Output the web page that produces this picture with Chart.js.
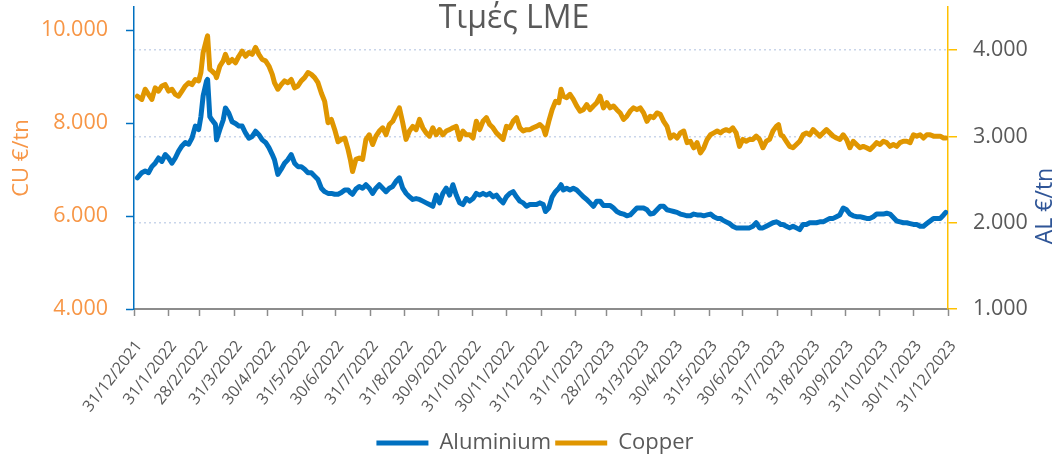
<!DOCTYPE html>
<html>
<head>
<meta charset="utf-8">
<script src="https://cdn.jsdelivr.net/npm/chart.js@4.4.1/dist/chart.umd.min.js"></script>
<style>
html,body{margin:0;padding:0;background:#ffffff;}
#wrap{width:1056px;height:459px;position:relative;}
</style>
</head>
<body>
<div id="wrap"><canvas id="c"></canvas></div>
<script>
// ---- data ----
const chartTitle = 'Τιμές LME';
const leftAxisTitle = 'CU €/tn';
const rightAxisTitle = 'AL €/tn';
const seriesNames = ['Aluminium', 'Copper'];

const tickLabels = ['31/12/2021','31/1/2022','28/2/2022','31/3/2022','30/4/2022','31/5/2022','30/6/2022',
  '31/7/2022','31/8/2022','30/9/2022','31/10/2022','30/11/2022','31/12/2022','31/1/2023','28/2/2023',
  '31/3/2023','30/4/2023','31/5/2023','30/6/2023','31/7/2023','31/8/2023','30/9/2023','31/10/2023',
  '30/11/2023','31/12/2023'];
const copperTicks = [4000, 6000, 8000, 10000];
const aluminiumTicks = [1000, 2000, 3000, 4000];

// sample dates, as days after 31/12/2021
const sampleDays = [
  3,7,10,13,16,19,22,25,28,31,34,37,40,43,46,49,52,55,58,60,62,65,66,68,70,73,74,77,80,82,85,
  88,91,94,97,100,103,106,109,112,115,118,121,124,126,129,132,135,138,141,144,147,150,153,156,159,
  162,165,168,171,174,177,180,183,
  186,189,192,194,196,199,202,205,208,211,214,217,220,223,226,229,232,235,238,241,244,247,250,253,
  256,259,262,265,268,271,274,277,280,283,286,289,292,295,298,301,304,307,310,313,316,319,322,325,
  328,331,334,337,340,343,346,349,352,355,358,361,
  364,367,369,372,375,378,381,383,385,388,391,394,397,400,403,406,409,412,415,418,421,424,427,430,
  433,436,439,442,445,448,451,454,457,460,463,466,469,472,475,478,481,484,487,490,493,496,499,502,
  505,508,511,514,517,520,523,526,528,531,534,537,540,543,
  546,549,552,555,558,561,564,567,570,573,576,578,580,582,585,588,591,594,597,600,603,606,609,612,
  615,618,621,624,627,630,633,636,639,642,645,648,651,654,657,660,663,666,669,672,675,678,681,684,
  687,690,693,696,699,702,705,708,711,714,717,720,723,726,728
];

// Copper, €/tn (left axis)
const copper = [
  8580,8510,8730,8620,8510,8760,8690,8800,8830,8690,8730,8620,8580,8690,8800,8870,8830,8940,8910,
  9090,9520,9800,9880,9160,9120,9050,8980,9230,9340,9480,9300,
  9370,9300,9440,9550,9440,9520,9480,9630,9480,9370,9340,9230,9050,8870,8730,8830,8910,8870,8940,8760,
  8800,8910,8980,9090,9050,8980,8870,8650,8470,8010,8080,7860,7600,
  7650,7680,7430,7220,6960,7220,7250,7220,7650,7750,7540,7720,7830,7900,7750,7970,8040,8190,8330,8010,
  7650,7830,7930,7860,8080,7900,7790,7720,7900,7750,7860,7750,7830,7860,7900,7930,7650,7830,7750,7750,
  7680,8040,7860,8040,8120,7970,7900,7790,7720,7650,7930,7900,8040,8120,7900,7830,7860,7860,7900,7930,
  7970,7900,7750,8040,8290,8470,8440,8730,8580,8550,8620,8510,8370,8260,8290,8400,8290,8370,
  8440,8580,8330,8440,8330,8370,8290,8220,8080,8150,8260,8330,8290,8330,8220,8040,8150,8120,8220,8190,
  8040,7930,7680,7750,7680,7790,7830,7580,7610,7470,7580,7360,7470,7650,7750,7790,7830,7790,
  7830,7860,7830,7900,7790,7500,
  7650,7610,7650,7650,7720,7650,7470,7610,7650,7830,7930,7970,
  7750,7720,7610,7500,7470,7540,7610,7750,7790,7750,7860,7790,7720,7790,7860,7790,7720,7680,7650,7750,
  7650,7470,7610,7540,7470,7500,7470,7430,7500,7580,7540,7610,7580,7500,7540,7500,7580,7610,7610,7580,
  7750,7720,7750,7680,7750,7750,7720,7720,7720,7680,7680
];

// Aluminium, €/tn (right axis)
const aluminium = [
  2520,2580,2600,2580,2650,2690,2750,2710,2790,2750,2690,2750,2830,2890,2930,2910,2980,3120,3080,
  3230,3470,3640,3660,3230,3190,3140,2960,3080,3190,3330,3270,
  3170,3150,3120,3120,3040,2980,3000,3060,3020,2960,2930,2870,2790,2730,2560,2620,2690,2730,2790,
  2690,2650,2650,2620,2580,2580,2540,2500,2400,2360,2340,2340,2330,2330,
  2350,2380,2380,2350,2330,2390,2420,2400,2440,2400,2340,2400,2440,2400,2360,
  2400,2420,2480,2520,2400,2340,2300,2270,2280,2270,2250,2230,2210,2190,2320,2230,2340,2400,2320,2440,
  2320,2230,2210,2280,2250,2280,2340,2320,2340,2320,2340,2300,2320,2270,2230,2300,2340,2360,2300,2250,
  2230,2190,2210,2210,2210,
  2230,2210,2130,2170,2300,2360,2400,2440,2380,2400,2380,2400,2380,2340,2300,2270,2230,2190,
  2250,2250,2200,2200,2200,2170,2130,2110,2100,2080,2090,2130,2170,2170,2170,2150,2100,2110,2150,2190,
  2190,2150,2140,2130,2120,2100,2090,2080,2080,2100,2090,2090,2080,2090,2100,2070,2050,2050,
  2030,2010,1990,1960,1940,1940,
  1940,1940,1940,1960,2000,1940,1940,1960,1980,2000,2010,2000,
  1980,1980,1960,1940,1960,1940,1920,1980,1980,2000,2000,2000,2010,2010,2030,2050,2050,2070,2090,2170,
  2150,2100,2080,2070,2070,2060,2050,2050,2070,2100,2100,2100,2110,2100,2060,2020,2010,2000,2000,1990,
  1980,1980,1960,1960,1990,2020,2050,2050,2050,2090,2120
];

// ---- helpers ----
function labelToDay(label) {
  const [d, m, y] = label.split('/').map(Number);
  return Math.round((Date.UTC(y, m - 1, d) - Date.UTC(2021, 11, 31)) / 86400000);
}
const tickDays = tickLabels.map(labelToDay);
function fmt(v) { return String(Math.round(v)).replace(/\B(?=(\d{3})+(?!\d))/g, '.'); }
function pts(vals) { return vals.map((v, i) => ({ x: sampleDays[i], y: v })); }
function noPad(s) { s.paddingTop = 0; s.paddingBottom = 0; s.paddingLeft = 0; s.paddingRight = 0; }

const FONT = '"Open Sans", "Noto Sans", sans-serif';
const GREY = '#595959';
const ORANGE = '#F79646';
const CU_COLOR = '#E09600';
const AL_COLOR = '#0070C0';

const extraText = {
  id: 'extraText',
  afterDraw(chart) {
    const ctx = chart.ctx, a = chart.chartArea;
    ctx.save();
    ctx.fillStyle = GREY;
    ctx.font = '32px ' + FONT;
    ctx.textAlign = 'center';
    ctx.textBaseline = 'middle';
    ctx.fillText(chartTitle, (a.left + a.right) / 2 - 27, a.top + 12);
    ctx.translate(chart.width - 11, (a.top + a.bottom) / 2 + 48);
    ctx.rotate(-Math.PI / 2);
    ctx.fillStyle = '#2F5597';
    ctx.font = '23px ' + FONT;
    ctx.fillText(rightAxisTitle, 0, 0);
    ctx.restore();
  }
};

new Chart(document.getElementById('c'), {
  type: 'line',
  data: {
    datasets: [
      { label: seriesNames[0], data: pts(aluminium), yAxisID: 'y2', borderColor: AL_COLOR, backgroundColor: AL_COLOR,
        borderWidth: 5, pointRadius: 0, tension: 0, borderCapStyle: 'round', borderJoinStyle: 'round' },
      { label: seriesNames[1], data: pts(copper), yAxisID: 'y', borderColor: CU_COLOR, backgroundColor: CU_COLOR,
        borderWidth: 5, pointRadius: 0, tension: 0, borderCapStyle: 'round', borderJoinStyle: 'round' }
    ]
  },
  options: {
    responsive: true,
    maintainAspectRatio: false,
    animation: false,
    layout: { padding: { left: 14, right: 0, top: 7, bottom: -5 } },
    plugins: {
      title: { display: false },
      tooltip: { enabled: false },
      legend: {
        display: true,
        position: 'bottom',
        labels: {
          usePointStyle: true,
          pointStyle: 'line',
          pointStyleWidth: 52,
          boxWidth: 52,
          padding: 4,
          color: GREY,
          font: { family: FONT, size: 22 }
        }
      }
    },
    scales: {
      x: {
        type: 'linear',
        min: 0,
        max: 730,
        afterBuildTicks: (s) => { s.ticks = tickDays.map(v => ({ value: v })); },
        afterFit: (s) => { s.height = 119; noPad(s); },
        ticks: {
          autoSkip: false,
          minRotation: 52,
          maxRotation: 52,
          padding: 21,
          labelOffset: 5,
          color: GREY,
          font: { family: FONT, size: 16 },
          callback: (v, i) => tickLabels[i]
        },
        grid: { drawOnChartArea: false, drawTicks: true, tickLength: 7, tickColor: '#8C8C8C', tickWidth: 1.5 },
        border: { display: true, color: '#8C8C8C', width: 2 }
      },
      y: {
        type: 'linear',
        position: 'left',
        min: 4000,
        max: 10500,
        afterBuildTicks: (s) => { s.ticks = copperTicks.map(v => ({ value: v })); },
        afterFit: (s) => { s.width = 120; noPad(s); },
        ticks: { padding: 18, color: ORANGE,
          font: { family: FONT, size: 21.5 }, callback: (v) => fmt(v) },
        grid: { drawOnChartArea: false, drawTicks: true, tickLength: 8, tickColor: AL_COLOR, tickWidth: 1.5, tickBorderDash: [] },
        border: { display: true, color: AL_COLOR, width: 1.5 },
        title: { display: true, text: leftAxisTitle, color: ORANGE, font: { family: FONT, size: 22 }, padding: { top: -5, bottom: 0 } }
      },
      y2: {
        type: 'linear',
        position: 'right',
        min: 1000,
        max: 4500,
        afterBuildTicks: (s) => { s.ticks = aluminiumTicks.map(v => ({ value: v })); },
        afterFit: (s) => { s.width = 108; noPad(s); },
        ticks: { padding: 16, color: GREY,
          font: { family: FONT, size: 21.5 }, callback: (v) => fmt(v) },
        grid: { drawOnChartArea: true, color: '#C9D5EA', lineWidth: 1.5, drawTicks: true, tickLength: 9,
          tickColor: '#FFC000', tickWidth: 1.5, tickBorderDash: [] },
        border: { display: true, color: '#FFC000', width: 1.5, dash: [2, 3] }
      }
    }
  },
  plugins: [extraText]
});
</script>
</body>
</html>
